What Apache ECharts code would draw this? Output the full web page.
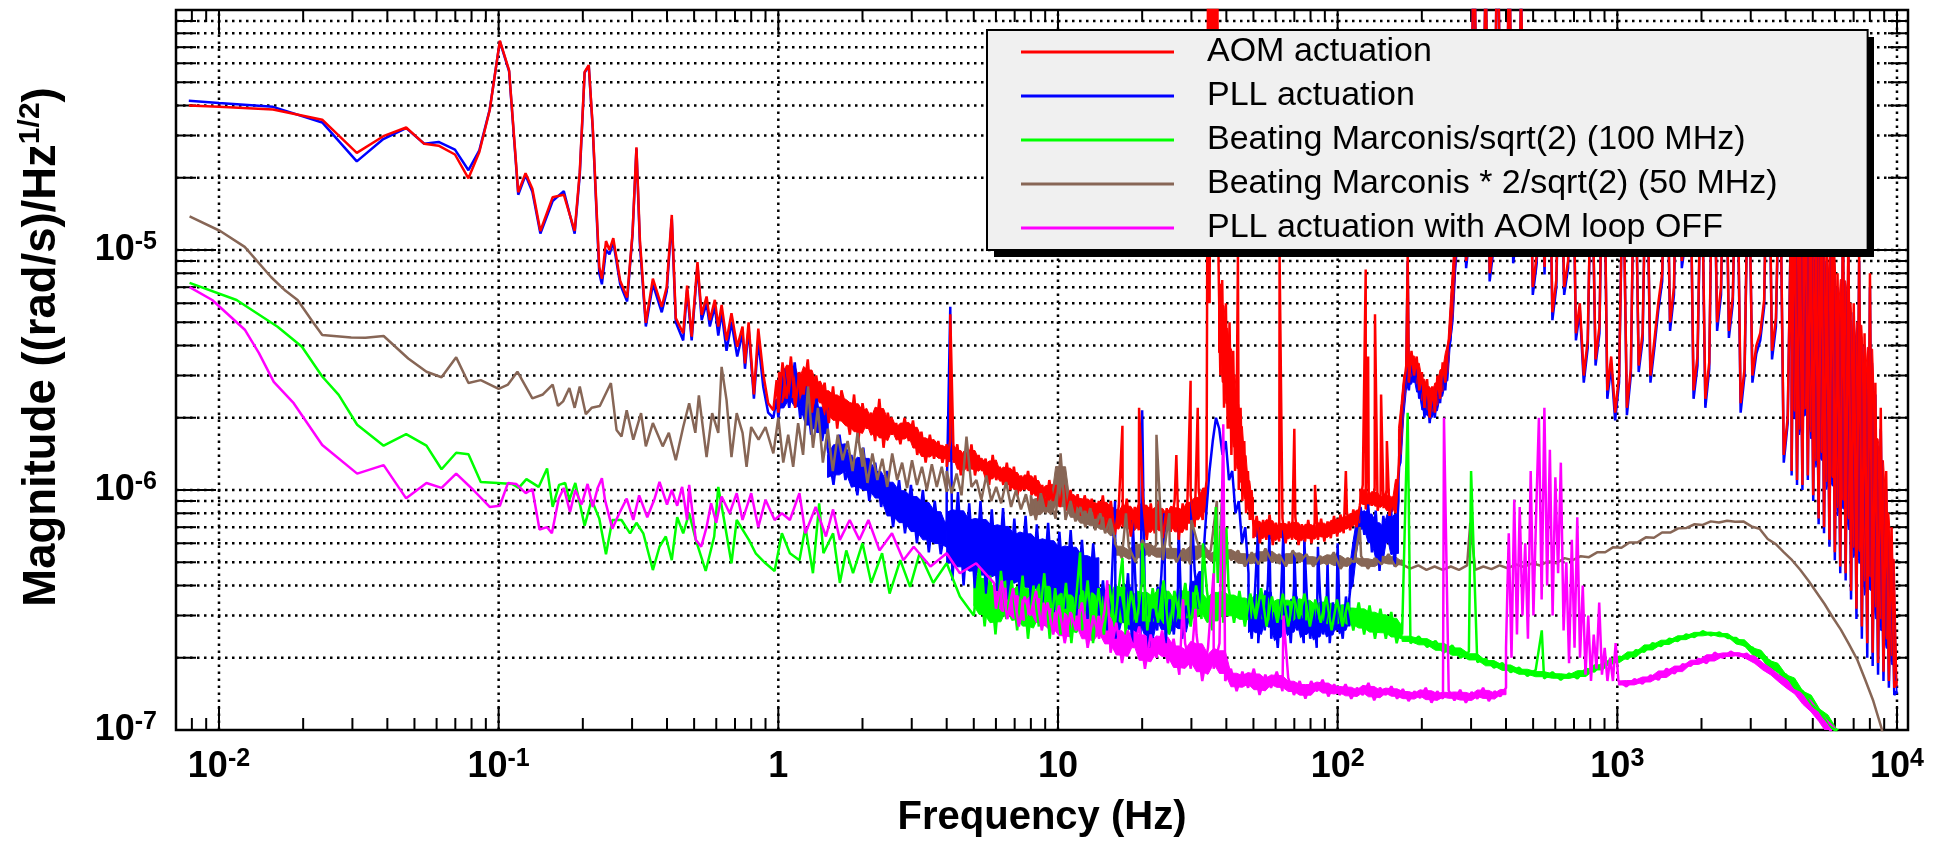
<!DOCTYPE html>
<html><head><meta charset="utf-8">
<script src="https://cdn.jsdelivr.net/npm/echarts@6.0.0/dist/echarts.min.js"></script>
<style>html,body{margin:0;padding:0;background:#fff}#c{width:1940px;height:848px}</style>
</head><body><div id="c"></div>
<script>
// All magnitudes below are in units of 1e-7 (rad/s)/Hz^1/2
const UNIT = 1e-7;

// Axis extents
const X_MIN = 0.00702, X_MAX = 10950;
const Y_MIN = 1e-7, Y_MAX = 1e-4;

// Tick definitions (decade exponents and minor multipliers)
const xDecadeExps = [-3, -2, -1, 0, 1, 2, 3, 4];
const yDecadeExps = [-7, -6, -5, -4];
const minorSteps = [2, 3, 4, 5, 6, 7, 8, 9];

// Legend / series names
const names = {
  aom: 'AOM actuation',
  pll: 'PLL actuation',
  b100: 'Beating Marconis/sqrt(2) (100 MHz)',
  b50: 'Beating Marconis * 2/sqrt(2) (50 MHz)',
  off: 'PLL actuation with AOM loop OFF'
};

// Noise segments: [fStart, fEnd, values read across the segment, dense-band flag]

// ---------- AOM actuation (red) ----------
const aomPts = [[0.0078,400],[0.01,395],[0.0156,385],[0.0234,349],[0.0311,254],[0.0387,298],[0.0467,324],[0.0542,277],[0.061,272],[0.0698,250],[0.078,199],[0.0853,256],[0.0929,382],[0.101,745],[0.109,560],[0.1175,174],[0.1248,209],[0.132,180],[0.141,120],[0.156,166],[0.171,170],[0.187,120],[0.195,211],[0.203,552],[0.21,589],[0.217,326],[0.229,85],[0.234,76],[0.242,109],[0.249,100],[0.257,112],[0.272,74.5],[0.288,63.4],[0.301,117],[0.311,268],[0.32,110],[0.336,49.7],[0.356,76],[0.383,58],[0.399,70],[0.416,140],[0.43,52],[0.457,45],[0.472,71],[0.49,43.5],[0.514,89],[0.532,53.6],[0.554,64],[0.569,51],[0.593,62],[0.61,48],[0.627,59],[0.653,42],[0.68,54.5],[0.713,39.5],[0.745,48],[0.76,33.7],[0.783,50],[0.818,25],[0.848,47],[0.883,30.6],[0.92,23],[0.96,21.5],[0.986,28.7],
  [4.12,54],[17,18.5],[19.5,22],[26.5,14],[29.8,28.5],[31.6,22],[44,95],[62,95],[70,18],[83,10.5],[107,12],[126,83],[128.5,36],[136,54],[143,25],[150,16],[178,95]];
const aomNoise = [
  [1.0, 4.0, [21,34,24,36,22,31,25,35,21,30,23,28,19,27,18,26,22,17,25,16,23,18,21,16,24,15,21,17,19,15.5,20,16,19.5,14,17.5,13,17,13.5,16,13,15.5], 1],
  [4.0, 14, [12.5,16,13,15.5,11.5,14.5,12,15.5,11.5,14,12,13.5,10.5,14,11,12.5,10.5,13,10,12.5,9.5,11.5,10,12,9.5,11.5,9,10.5,8.5,11,9,10.5,8.5,10.5,8.2,10,8,9.6,7.8,9.5,8,9.2,7.6,9], 1],
  [14, 34, [7.2,9.5,6.8,9,6.5,8.6,7,9.2,6.4,8.5,6.8,9.4,6.2,8.8,6.6,9,6.3,8.4,6.7,9.1,6.2,8.8,6.8,9.5,7,10,7.5,11], 1],
  [34, 37.5, [12,2000,60,3000,150,1500,300,2500,120], 0],
  [37.5, 50, [90,30,75,22,60,18,50,14,38,12,28,10,22,9,16,8,12,7.5,10,7], 1],
  [50, 120, [6.3,7.8,6.0,7.5,6.2,7.9,5.9,7.3,6.1,7.6,6.0,7.4,6.2,7.7,5.9,7.2,6.1,7.5,6.0,7.3,6.2,7.6,6.1,7.4,6.3,7.8,6.4,7.9,6.6,8.1,6.8,8.3,7,8.6], 1],
  [120, 165, [8.5,10.5,8.3,9.8,8.6,10.2,8.2,9.6,8.4,10,7.8,9.4,8,12], 1],
  [165, 270, [12,20,27,33,28,38,30,36,26,31,22,29,20,27,21,30,24,34,28,40,45,70,110,200], 1],
  [270, 4200, [110,400,90,130,2500,130,160,1500,80,110,3000,140,120,2000,95,130,1200,150,500,70,95,400,85,600,55,75,400,70,90,500,45,60,30,42,300,35,48,500,26,36,21,30,250,22,32,400,33,45,350,30,42,60,80,500,50,70,600,90,120,400,26,36,300,24,34,500,50,70,600,46,64,400,23,32,300,30,40,45,62,600,38,52,300,14,20,200], 0],
  [4200, 10000, [12,300,11,150,10.5,400,11.5,200,9.5,120,7.6,250,7,100,6.2,200,5.5,80,4.8,150,4.5,120,3.8,60,3.2,100,2.7,45,2.3,80,2.1,28,1.9,22,1.75,12,1.6,7,1.5,1.6], 1]
];

// ---------- PLL actuation (blue) ----------
const pllPts = [[0.0078,419],[0.01,410],[0.0156,395],[0.0234,340],[0.0311,234],[0.0387,290],[0.0467,322],[0.0542,277],[0.061,282],[0.0698,262],[0.078,215],[0.0853,260],[0.0929,385],[0.101,740],[0.109,555],[0.1175,170],[0.1248,205],[0.132,175],[0.141,117],[0.156,160],[0.171,176],[0.187,117],[0.195,205],[0.203,548],[0.21,585],[0.217,320],[0.229,80],[0.234,72],[0.242,100],[0.249,96],[0.257,108],[0.272,72],[0.288,61],[0.301,115],[0.311,265],[0.32,105],[0.336,48],[0.356,72],[0.383,55],[0.399,67],[0.416,135],[0.43,50],[0.457,42],[0.472,68],[0.49,42],[0.514,86],[0.532,51],[0.554,60],[0.569,48],[0.593,58],[0.61,44],[0.627,55],[0.653,38],[0.68,50],[0.713,36],[0.745,45],[0.76,32],[0.783,47],[0.818,24],[0.848,42],[0.883,27],[0.92,21],[0.96,20],[0.986,24],
  [4.12,58],[16,9],[18.5,7.5],[20,21.5],[24,8],[27,7],[30,9],[52,7],[57,6.5],[64,6.8],[70,5.5],[76,6.2],[85,5.8],[92,5],[100,6],[178,90]];
const pllNoise = [
  [1.0, 1.5, [20,32,22,34,20,27,17,24,16,22], 1],
  [1.5, 4.0, [15,10.5,17,11,14,9.5,15,9,13,8.5,12,7,11,6.6,10.5,6,10,5.5,9,5.4,7.5], 1],
  [4.0, 14, [9.5,4.2,9.8,4.0,8.8,3.9,9.0,3.7,8.3,3.8,8.4,3.5,7.6,3.6,7.8,3.3,7.2,3.4,7.3,3.1,6.7,3.2,6.8,3.0,6.2,2.9,6.0,3.0], 1],
  [14, 33, [3,4.2,2.6,3.8,2.4,3.6,2.8,4.5,2.3,3.4,2.5,4,2.2,3.2,2.6,4.4,2.3,3.5,2.5,3.9,2.4,3.3,2.8,4.6,3.2,5], 1],
  [33, 48, [5,8,12,16,20,18,14,16,11,12,8,9,6,7,4.5], 0],
  [48, 110, [3.2,2.4,3.8,2.3,3.5,2.6,4.2,2.4,3.1,2.2,3.6,2.5,3.3,2.3,3.9,2.6,3.0,2.3,3.5,2.4,3.2,2.2,3.7,2.5,3.1,2.3,3.4,2.6,3.0,2.4,3.6,2.7], 1],
  [110, 165, [3.5,5,7,8.5,6.5,8.7,5.5,8.2,4.6,7.8,6,8.5,4.8,9], 1],
  [165, 270, [11,18,25,30,26,35,28,33,24,29,20,27,19,25,20,28,23,32,26,37,42,65,100,190], 1],
  [270, 4200, [102,400,84,121,2500,121,149,1500,74,102,3000,130,112,2000,88,121,1200,140,500,65,88,400,79,600,51,70,400,65,84,500,42,56,28,39,300,33,45,500,24,33,19.5,28,250,20.5,30,400,31,42,350,28,39,56,74,500,46,65,600,84,112,400,24,33,300,22,32,500,46,65,600,43,60,400,21,30,300,28,37,42,58,600,35,48,300,13,19,200], 0],
  [4200, 10000, [11.5,250,10.5,140,10,350,11,180,9,110,7.2,220,6.6,90,5.8,180,5.1,70,4.5,130,4.2,100,3.5,55,2.9,90,2.4,40,2.0,70,1.85,25,1.7,18,1.6,10,1.5,6,1.4,1.45], 1]
];

// ---------- Beating Marconis/sqrt(2) 100 MHz (green) ----------
const b100Pts = [[0.00785,73],[0.01156,61.9],[0.0162,47.9],[0.0198,39.5],[0.0234,29.7],[0.0268,24.9],[0.0312,18.7],[0.0388,15.3],[0.0467,17.1],[0.0552,15.3],[0.0625,12.2],[0.0705,14.3],[0.078,14.1],[0.0863,10.8],[0.0993,10.7],[0.1117,10.6],[0.118,10.2],[0.1257,11.1],[0.139,10.3],[0.149,12.3],[0.156,8.5],[0.1645,10.5],[0.173,10.7],[0.179,9.1],[0.188,10.7],[0.203,7.1],[0.215,9.1],[0.229,7.6],[0.242,5.4],[0.255,7.5],[0.275,7.5],[0.295,6.6],[0.311,7.3],[0.329,6.6],[0.356,4.64],[0.376,5.8],[0.396,6.4],[0.416,5.1],[0.435,7.7],[0.457,6.6],[0.48,8.0],[0.507,6.2],[0.55,4.6],[0.59,6.4],[0.61,10.3],[0.64,7.5],[0.68,4.95],[0.71,7.5],[0.785,6.2],[0.83,5.45],[0.9,4.95],[0.97,4.6],[1.03,6.6],[1.1,5.45],[1.19,5.1],[1.25,7.0],[1.33,4.5],[1.4,8.8],[1.45,5.45],[1.57,6.6],[1.66,4.1],[1.75,5.6],[1.85,4.5],[2.0,6.0],[2.15,4.1],[2.35,5.45],[2.5,3.7],[2.73,5.1],[2.96,3.95],[3.2,5.45],[3.58,4.1],[4.0,4.95],[4.46,3.6],
  [12,5.5],[17,5.2],[20,6],[33,6],[36.7,8.5],[38.5,8.8],[40,7],[178,21],[300,12],[537,2.6],[7000,0.7]];
const b100Noise = [
  [5.0, 170, [3.0,4.8,2.7,4.4,2.5,4.6,2.9,4.2,2.6,4.4,2.4,4.0,2.7,4.5,2.4,3.9,2.5,4.1,2.3,3.8,2.6,4.2,2.3,3.9,2.5,4.0,2.7,4.4,2.5,3.8,2.8,4.1,2.6,3.9,2.8,4.2,2.5,3.8,2.9,4.1,2.7,4.0,2.9,3.8,2.6,4.1,2.8,3.9,2.8,3.8,2.7,3.7,2.9,3.9,2.7,3.6,2.8,3.7,2.7,3.6,2.9,3.7,2.7,3.5,2.8,3.6,2.6,3.5,2.7,3.4,2.6,3.4,2.5,3.3,2.4,3.2,2.4,3.1,2.3,2.8], 1],
  [170, 6500, [2.5,2.3,2.45,2.22,2.35,2.1,2.25,2.0,2.12,1.92,1.98,1.82,1.9,1.74,1.82,1.68,1.78,1.64,1.74,1.62,1.72,1.64,1.8,1.75,1.9,1.88,2.02,1.98,2.15,2.12,2.3,2.24,2.4,2.35,2.5,2.44,2.58,2.48,2.55,2.42,2.42,2.25,2.2,2.0,1.95,1.75,1.7,1.5,1.45,1.27,1.2,1.05,0.99,0.88], 1]
];

// ---------- Beating Marconis * 2/sqrt(2) 50 MHz (brown) ----------
const b50Pts = [[0.00785,138],[0.0101,120],[0.01236,103],[0.01538,77],[0.0173,67.6],[0.0191,61.9],[0.0215,50.7],[0.0234,44.2],[0.0297,43.2],[0.0334,43.1],[0.0388,43.8],[0.0475,35.3],[0.0552,31.1],[0.0625,29.5],[0.0705,35.7],[0.078,27.9],[0.0863,28.7],[0.1,26.4],[0.108,27.5],[0.1167,31.1],[0.132,24.1],[0.144,25],[0.156,27.5],[0.163,22.4],[0.17,23.4],[0.179,26.6],[0.187,22],[0.195,27],[0.205,20.7],[0.215,22],[0.23,22.4],[0.252,27.9],[0.264,17.8],[0.275,16.7],[0.287,21.5],[0.303,16.2],[0.323,20.9],[0.336,15.2],[0.356,19],[0.386,15.2],[0.406,17.3],[0.43,13.3],[0.457,18.3],[0.48,23],[0.505,17.3],[0.52,24.8],[0.554,13.7],[0.58,20.9],[0.61,17.3],[0.627,32.6],[0.653,23.7],[0.68,13.7],[0.71,20.9],[0.745,17.3],[0.77,12.5],[0.8,18.3],[0.85,16.2],[0.9,18.3],[0.96,14.2],
  [17.5,8],[22.5,17],[25,8],[30,7.5],[37,9],[120,7],[298,7.3],[9300,0.75],[9800,0.55]];
const b50Noise = [
  [1.0, 2.0, [20,13,17,12.5,19,14,27,15,22,13,18,12,17,13.3,16,12,17.3,12.5], 0],
  [2.0, 4.0, [15,10.7,14.2,11,13.5,10.3,14.2,11,13,10.2,13.3,10.5,12.5,10,12.8,10.3,12.5,9.8], 0],
  [4.0, 8.0, [12,9.7,11.7,9.5,16.7,10.3,11,9.1,11.5,9,10.3,8.8,10.8,8.5,10,8.3,9.6,7.8], 0],
  [8.0, 16, [9.5,7.5,9.7,8,9,7.6,14.2,7.5,9,7.4,8.5,7,8.4,6.8,8,6.6,7.6,6.2], 1],
  [16, 170, [6,5.2,5.8,5,6.2,5.3,5.9,5.1,5.9,5,5.7,4.9,6.1,5.2,5.6,4.9,5.8,5.1,5.6,4.8,5.5,4.9,5.7,5,5.4,4.8,5.6,5,5.4,4.8,5.3,4.9,5.5,4.7,5.2,5,5.3,4.7,5.2,4.9,5.4,4.8,5.1], 1],
  [170, 8800, [4.9,4.7,4.85,4.65,4.8,4.65,4.8,4.65,4.85,4.65,4.8,4.68,4.85,4.72,4.9,4.78,4.95,4.85,5.05,4.95,5.2,5.1,5.3,5.25,5.5,5.5,5.78,5.75,6.05,6.05,6.35,6.32,6.65,6.65,6.92,6.95,7.2,7.15,7.4,7.32,7.45,7.38,7.4,7.05,6.9,6.25,5.95,5.5,5.1,4.65,4.2,3.75,3.35,2.95,2.62,2.28,1.97,1.62,1.32,1.02], 0]
];

// ---------- PLL actuation with AOM loop OFF (magenta) ----------
const offPts = [[0.00785,70],[0.00946,61.9],[0.0124,46.4],[0.0139,37.2],[0.0157,28.2],[0.0185,23],[0.0234,15.4],[0.0312,11.7],[0.0388,12.7],[0.0467,9.23],[0.0552,10.7],[0.0625,10.2],[0.0705,11.7],[0.0812,10],[0.0929,8.5],[0.101,8.6],[0.108,10.7],[0.1155,10.6],[0.125,9.7],[0.132,10.1],[0.14,6.85],[0.149,7.0],[0.155,6.6],[0.164,9.2],[0.171,10.2],[0.18,8.1],[0.188,10],[0.198,8.7],[0.208,10.6],[0.217,8.5],[0.226,10.2],[0.234,11.2],[0.24,9.1],[0.255,6.9],[0.27,8.0],[0.287,9.2],[0.303,7.5],[0.318,9.5],[0.34,7.7],[0.36,9.1],[0.376,10.8],[0.4,8.7],[0.416,10],[0.435,8.6],[0.453,10.3],[0.472,7.5],[0.48,10.5],[0.507,6.2],[0.53,5.8],[0.554,7.0],[0.575,8.8],[0.6,7.3],[0.627,9.4],[0.67,8.0],[0.71,9.7],[0.745,7.5],[0.8,9.7],[0.848,7.0],[0.9,9.1],[0.97,7.5],[1.03,8.0],[1.1,7.5],[1.19,9.7],[1.25,6.6],[1.36,8.5],[1.48,6.4],[1.57,8.3],[1.66,6.2],[1.8,7.5],[1.95,6.2],[2.1,7.5],[2.3,5.6],[2.55,6.6],[2.8,5.1],[3.05,5.8],[3.5,4.8],[4.0,5.45],[4.46,4.5],[5.1,4.95],[5.9,4.1],
  [15,4.2],[28,3.5],[31,3.2],[36,4.5],[39,18.8],[64,3],[240,20],[6500,0.8]];
const offNoise = [
  [6, 400, [3.2,4.2,2.9,3.9,2.7,3.6,3.0,3.8,2.6,3.4,2.5,3.3,2.3,3.1,2.6,3.4,2.2,3.0,2.4,3.2,2.1,2.8,1.9,2.6,2.2,2.7,1.8,2.5,2.0,2.6,1.9,2.4,1.7,2.3,1.8,2.5,1.6,2.2,1.8,2.3,1.6,1.8,1.45,1.75,1.5,1.8,1.4,1.7,1.5,1.75,1.45,1.65,1.4,1.6,1.35,1.6,1.45,1.62,1.38,1.55,1.4,1.55,1.35,1.5,1.4,1.57,1.33,1.5,1.4,1.52,1.35,1.48,1.32,1.45,1.36,1.5,1.3,1.45,1.35,1.46,1.33,1.47,1.3,1.44,1.35,1.5,1.32,1.45,1.38,1.5], 1],
  [400, 1009, [2.2,6.6,2.0,9.1,2.5,8.5,3.0,6,2.4,12,3,8,20,3.5,22,4,14.7,3,11.3,4.5,13,2.6,5,1.9,6.2,2.2,7.7,2.0,4,1.7,3,1.6,2.5,1.8,3.4,1.7,2.2,1.6,2.0,1.6,2.3,1.6], 0],
  [1009, 6000, [1.62,1.52,1.63,1.56,1.69,1.62,1.8,1.72,1.88,1.85,1.98,1.9,2.1,2.0,2.12,2.03,2.08,1.95,1.85,1.74,1.66,1.55,1.45,1.38,1.24,1.15,1.05,0.93], 1]
];

// ---------- helpers ----------
function segFreqs(f0, f1, n) {
  const l0 = Math.log10(f0), l1 = Math.log10(f1);
  const out = [];
  for (let i = 0; i < n; i++) out.push(Math.pow(10, l0 + (l1 - l0) * i / (n - 1)));
  return out;
}
function buildSeries(pts, noise) {
  const out = pts.map(p => [p[0], p[1]]);
  noise.forEach(([f0, f1, vals]) => {
    const fs = segFreqs(f0, f1, vals.length);
    vals.forEach((v, i) => out.push([fs[i], v]));
  });
  out.sort((a, b) => a[0] - b[0]);
  return out.map(([f, u]) => [f, u * UNIT]);
}
// solid core of a dense noise segment: the middle part of the local min/max extent (log scale)
const CORE = [0.2, 0.8];
function bandPolygons(noise) {
  const polys = [];
  noise.forEach(([f0, f1, vals, dense]) => {
    if (!dense) return;
    const n = vals.length, fs = segFreqs(f0, f1, n);
    const up = [], lo = [];
    for (let i = 0; i < n; i++) {
      const a = vals[Math.max(0, i - 1)], b = vals[i], c = vals[Math.min(n - 1, i + 1)];
      const hi = Math.log(Math.max(a, b, c)), lw = Math.log(Math.min(a, b, c));
      up.push([fs[i], Math.exp(lw + CORE[1] * (hi - lw)) * UNIT]);
      lo.push([fs[i], Math.exp(lw + CORE[0] * (hi - lw)) * UNIT]);
    }
    polys.push(up.concat(lo.reverse()));
  });
  return polys;
}

const FONT = '"Liberation Sans", Arial, Helvetica, sans-serif';
const COLORS = { aom: '#ff0000', pll: '#0000ff', b100: '#00ff00', b50: '#876656', off: '#ff00ff' };

// tick data
const xTicks = [], yTicks = [];
xDecadeExps.forEach(e => [1].concat(minorSteps).forEach(m => {
  const v = m * Math.pow(10, e);
  if (v >= X_MIN && v <= X_MAX) xTicks.push([v, Y_MIN, m === 1 ? 1 : 0]);
}));
yDecadeExps.forEach(e => [1].concat(minorSteps).forEach(m => {
  const v = m * Math.pow(10, e);
  if (v >= Y_MIN * 0.999 && v <= Y_MAX * 1.001) yTicks.push([X_MIN, v, m === 1 ? 1 : 0]);
}));

const TICK = { xMajor: 24, xMinor: 12, yMajor: 40, yMinor: 20 };
const DOT = { stroke: '#000', lineWidth: 2.5, lineDash: [2.5, 4.5] };
const TICKSTYLE = { stroke: '#000', lineWidth: 2 };

function xTickRender(params, api) {
  const f = api.value(0), major = api.value(2);
  const b = api.coord([f, Y_MIN]), t = api.coord([f, Y_MAX]);
  const len = major ? TICK.xMajor : TICK.xMinor;
  const ch = [];
  if (major && f > X_MIN && f < X_MAX) ch.push({ type: 'line', shape: { x1: b[0], y1: b[1], x2: t[0], y2: t[1] }, style: DOT });
  ch.push({ type: 'line', shape: { x1: b[0], y1: b[1], x2: b[0], y2: b[1] - len }, style: TICKSTYLE });
  ch.push({ type: 'line', shape: { x1: t[0], y1: t[1], x2: t[0], y2: t[1] + len }, style: TICKSTYLE });
  return { type: 'group', children: ch };
}
function yTickRender(params, api) {
  const v = api.value(1), major = api.value(2);
  const l = api.coord([X_MIN, v]), r = api.coord([X_MAX, v]);
  const len = major ? TICK.yMajor : TICK.yMinor;
  const ch = [];
  if (v > Y_MIN * 1.001 && v < Y_MAX * 0.999) ch.push({ type: 'line', shape: { x1: l[0], y1: l[1], x2: r[0], y2: r[1] }, style: DOT });
  ch.push({ type: 'line', shape: { x1: l[0], y1: l[1], x2: l[0] + len, y2: l[1] }, style: TICKSTYLE });
  ch.push({ type: 'line', shape: { x1: r[0], y1: r[1], x2: r[0] - len, y2: r[1] }, style: TICKSTYLE });
  return { type: 'group', children: ch };
}

const tickRich = {
  b: { fontSize: 36, fontWeight: 'bold', fontFamily: FONT, color: '#000', lineHeight: 40, verticalAlign: 'middle' },
  s: { fontSize: 25, fontWeight: 'bold', fontFamily: FONT, color: '#000', lineHeight: 24, verticalAlign: 'top' }
};
function decadeLabel(v) {
  const l = Math.log10(v), e = Math.round(l);
  if (Math.abs(l - e) > 1e-6) return '';
  if (e === 0) return '{b|1}';
  if (e === 1) return '{b|10}';
  return '{b|10}{s|' + e + '}';
}
function yLabel(v) {
  if (v >= Y_MAX * 0.999) return '';
  return decadeLabel(v);
}

function lineSeries(key, data) {
  return {
    name: names[key], type: 'line', data: data, showSymbol: false, symbol: 'none',
    lineStyle: { color: COLORS[key], width: 2.5 }, itemStyle: { color: COLORS[key] },
    clip: true, silent: true, animation: false
  };
}
function bandSeries(key, noise) {
  const polys = bandPolygons(noise);
  return {
    type: 'custom', coordinateSystem: 'cartesian2d', silent: true, clip: true, animation: false,
    data: polys.map((p, i) => [p[0][0], p[0][1], i]), encode: { x: 0, y: 1 },
    renderItem: (params, api) => ({
      type: 'polygon',
      shape: { points: polys[api.value(2)].map(p => api.coord(p)) },
      style: { fill: COLORS[key], stroke: COLORS[key], lineWidth: 1 }
    })
  };
}

const chart = echarts.init(document.getElementById('c'), null, { renderer: 'canvas' });
chart.setOption({
  animation: false,
  backgroundColor: '#fff',
  grid: { left: 176, top: 10, width: 1732, height: 720, show: true, borderColor: '#000', borderWidth: 2.5, backgroundColor: 'transparent', containLabel: false, outerBoundsMode: 'none' },
  xAxis: {
    type: 'log', logBase: 10, min: X_MIN, max: X_MAX,
    axisLine: { show: false }, axisTick: { show: false }, splitLine: { show: false }, minorTick: { show: false },
    axisLabel: { formatter: decadeLabel, rich: tickRich, margin: 17, interval: 0, showMinLabel: false, showMaxLabel: false, hideOverlap: false },
    name: 'Frequency (Hz)', nameLocation: 'middle', nameGap: 68,
    nameTextStyle: { fontSize: 40, fontWeight: 'bold', fontFamily: FONT, color: '#000' }
  },
  yAxis: {
    type: 'log', logBase: 10, min: Y_MIN, max: Y_MAX,
    axisLine: { show: false }, axisTick: { show: false }, splitLine: { show: false }, minorTick: { show: false },
    axisLabel: { formatter: yLabel, rich: tickRich, margin: 19, hideOverlap: false },
    name: '{m|Magnitude ((rad/s)/Hz}{s|1/2}{m|)}', nameLocation: 'middle', nameRotate: 90, nameGap: 108,
    nameTextStyle: {
      padding: [0, 0, 0, 46],
      rich: {
        m: { fontSize: 45.5, fontWeight: 'bold', fontFamily: FONT, color: '#000', lineHeight: 52, verticalAlign: 'middle' },
        s: { fontSize: 30, fontWeight: 'bold', fontFamily: FONT, color: '#000', lineHeight: 32, verticalAlign: 'top' }
      }
    }
  },
  graphic: [
    { type: 'rect', left: 994, top: 37, shape: { width: 880, height: 220 }, style: { fill: '#000' }, z: 4, silent: true }
  ],
  legend: {
    data: [names.aom, names.pll, names.b100, names.b50, names.off],
    orient: 'vertical', left: 987, top: 30, z: 5,
    icon: 'rect', itemWidth: 153, itemHeight: 3, itemGap: 10,
    padding: [5, 90, 5, 34],
    backgroundColor: '#f0f0f0', borderColor: '#000', borderWidth: 2,
    selectedMode: false,
    textStyle: { fontSize: 34, fontFamily: FONT, color: '#000', lineHeight: 34, padding: [0, 0, 0, 28] }
  },
  series: [
    { type: 'custom', coordinateSystem: 'cartesian2d', data: xTicks, encode: { x: 0, y: 1 }, renderItem: xTickRender, clip: false, silent: true, z: 1 },
    { type: 'custom', coordinateSystem: 'cartesian2d', data: yTicks, encode: { x: 0, y: 1 }, renderItem: yTickRender, clip: false, silent: true, z: 1 },
    bandSeries('pll', pllNoise),
    lineSeries('pll', buildSeries(pllPts, pllNoise)),
    bandSeries('aom', aomNoise),
    lineSeries('aom', buildSeries(aomPts, aomNoise)),
    bandSeries('b50', b50Noise),
    lineSeries('b50', buildSeries(b50Pts, b50Noise)),
    bandSeries('b100', b100Noise),
    lineSeries('b100', buildSeries(b100Pts, b100Noise)),
    bandSeries('off', offNoise),
    lineSeries('off', buildSeries(offPts, offNoise))
  ]
});
</script></body></html>
